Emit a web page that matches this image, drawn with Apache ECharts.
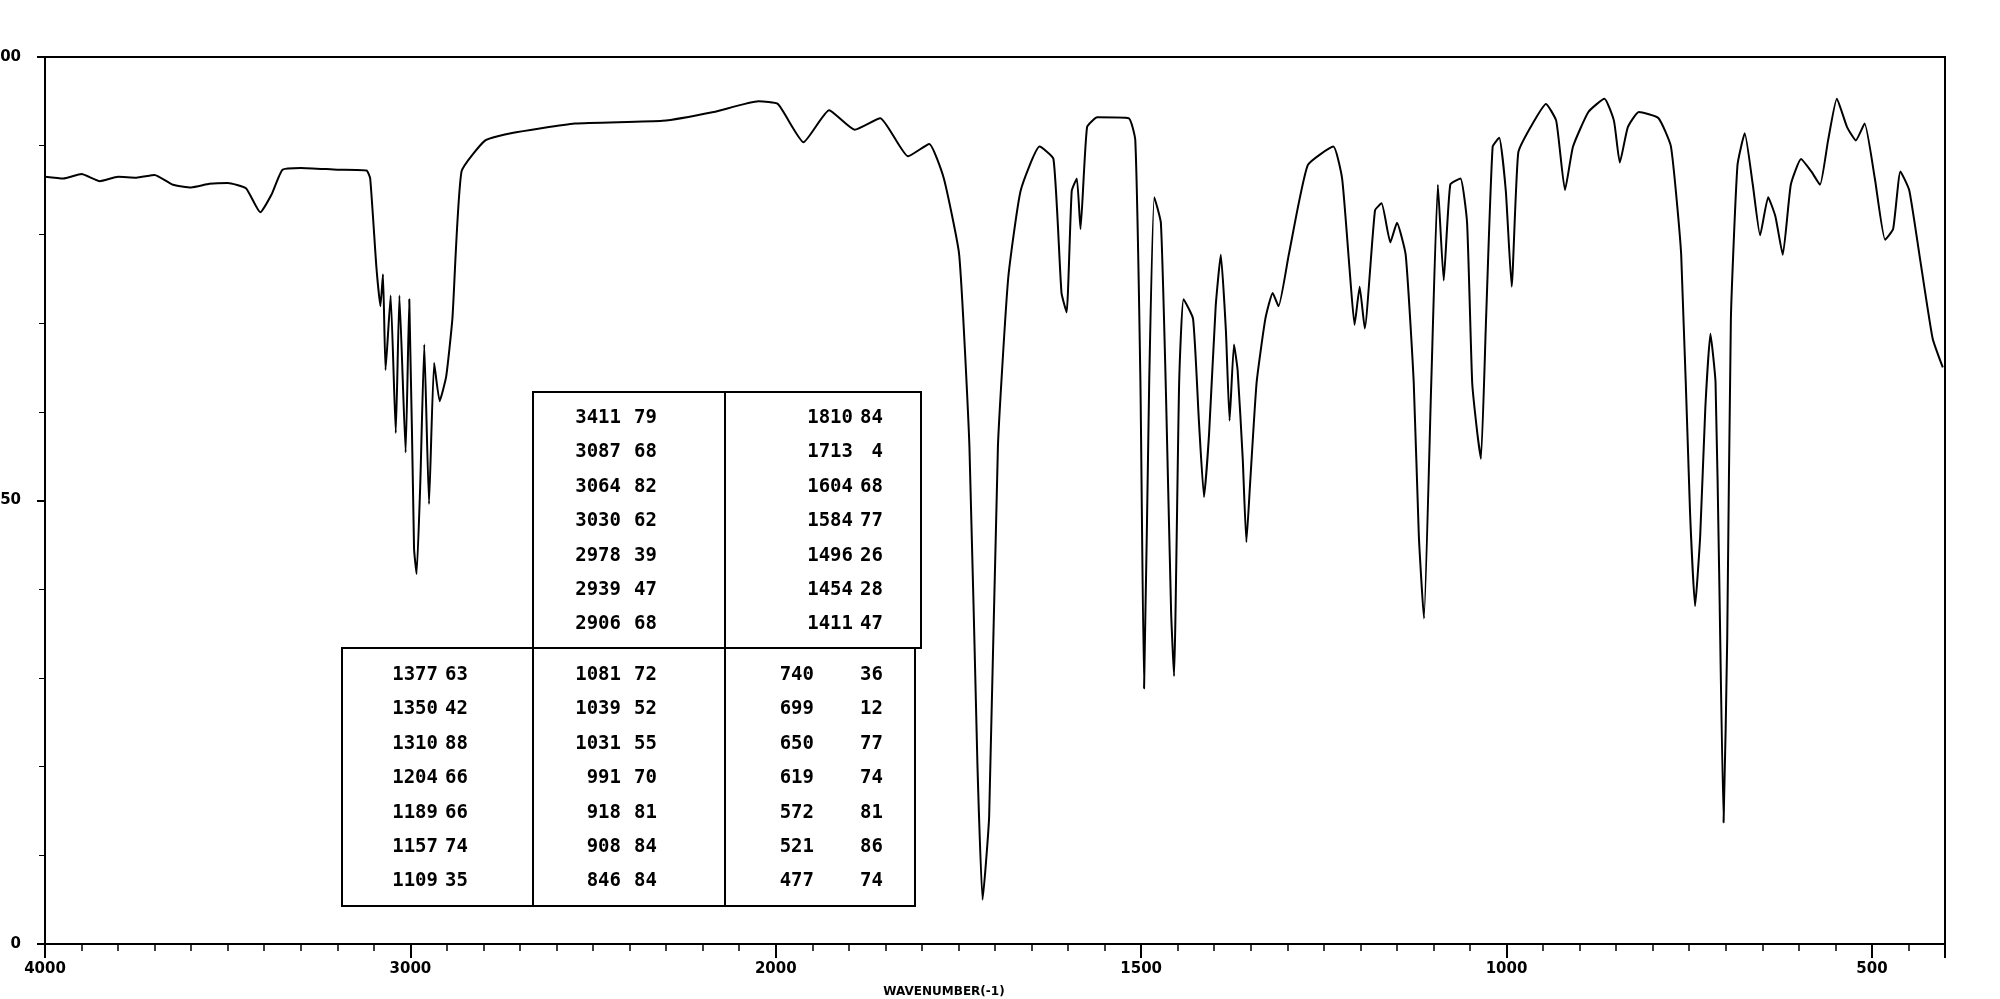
<!DOCTYPE html>
<html><head><meta charset="utf-8">
<script src="https://cdn.jsdelivr.net/npm/echarts@6/dist/echarts.min.js"></script>
<style>html,body{margin:0;padding:0;background:#fff}#c{width:2000px;height:999px}</style>
</head><body><div id="c"></div>
<script>
// spectrum (wavenumber cm-1, %T)
const wavenumbers = [4000,3950,3900,3850,3800,3750,3700,3650,3600,3550,3500,3450,3411,3380,3350,3300,3200,3120,3110,3093,3082,3075,3068,3054,3040,3030,3013,3003,2990,2983,2973,2962,2949,2935,2920,2902,2885,2860,2795,2725,2550,2310,2170,2047,1997,1962,1927,1892,1857,1819,1790,1770,1749,1735,1724,1717,1708,1696,1682,1665,1639,1620,1609,1602,1595,1588,1583,1574,1560,1517,1508,1501,1496,1489,1482,1473,1466,1459,1455,1448,1442,1429,1421,1414,1407,1398,1391,1384,1379,1373,1368,1361,1356,1351,1342,1330,1320,1312,1298,1272,1237,1225,1215,1208,1201,1194,1180,1171,1159,1150,1138,1127,1120,1113,1103,1094,1086,1077,1063,1054,1047,1040,1035,1028,1019,1010,1001,993,984,967,946,932,920,909,888,866,853,845,834,819,792,775,761,749,742,735,728,721,714,709,703,698,693,684,674,663,653,642,632,622,611,597,583,571,560,548,534,522,510,496,482,471,461,449,435,417,403];
const transmittance = [86.5,86.3,86.8,86.0,86.5,86.4,86.7,85.6,85.3,85.7,85.8,85.2,82.5,84.5,87.3,87.5,87.3,87.2,86.3,76.3,71.9,75.5,64.7,73.1,57.6,73.1,55.4,72.7,44.6,41.7,51.8,67.6,49.6,65.5,61.2,64.0,70.5,87.1,90.6,91.4,92.5,92.8,93.8,95.0,94.7,90.4,94.0,91.8,93.1,88.8,90.2,86.3,77.7,56.1,20.1,5.0,14.4,56.1,75.0,84.9,89.9,88.5,73.4,71.2,84.9,86.3,80.6,92.1,93.2,93.1,90.6,63.3,28.8,63.3,84.2,81.3,61.9,37.4,30.2,63.3,72.7,70.5,59.0,50.4,57.6,71.9,77.7,69.1,59.0,67.6,64.7,54.7,45.3,51.8,63.3,70.5,73.4,71.9,77.7,87.8,89.9,86.3,76.3,69.8,74.1,69.4,82.7,83.5,79.1,81.3,77.7,63.3,46.0,36.7,63.3,85.6,74.8,85.6,86.3,81.3,63.3,57.6,54.7,70.5,89.9,90.9,84.9,74.1,89.2,92.1,94.7,92.8,85.0,89.9,93.8,95.3,92.8,88.1,92.1,93.8,93.1,89.9,77.7,48.9,38.1,46.0,60.4,68.8,63.3,41.7,13.7,34.5,70.5,87.8,91.4,85.6,79.9,84.2,82.0,77.7,85.6,88.5,87.1,85.6,90.6,95.3,92.1,90.6,92.5,86.3,79.4,80.6,87.1,85.0,77.7,68.3,65.0];
// peak table columns
const peakCol1Wn = ['3411','3087','3064','3030','2978','2939','2906'];
const peakCol1T  = ['79','68','82','62','39','47','68'];
const peakCol2Wn = ['1810','1713','1604','1584','1496','1454','1411'];
const peakCol2T  = ['84','4','68','77','26','28','47'];
const peakCol3Wn = ['1377','1350','1310','1204','1189','1157','1109'];
const peakCol3T  = ['63','42','88','66','66','74','35'];
const peakCol4Wn = ['1081','1039','1031','991','918','908','846'];
const peakCol4T  = ['72','52','55','70','81','84','84'];
const peakCol5Wn = ['740','699','650','619','572','521','477'];
const peakCol5T  = ['36','12','77','74','81','86','74'];
const xTicks = [4000,3000,2000,1500,1000,500];
const yTicks = [0,50,100];

// IR axis: half scale above 2000 cm-1
function toU(w){ return w >= 2000 ? (4000 - w) / 2 : 1000 + (2000 - w); }
function fromU(u){ return u <= 1000 ? 4000 - 2*u : 2000 - (u - 1000); }

const data = wavenumbers.map((w,i)=>[toU(w), transmittance[i]]);
const font = 'DejaVu Sans';
const graphics = [];
function rect(x,y,w,h){ graphics.push({type:'rect',shape:{x,y,width:w,height:h},style:{fill:'none',stroke:'#000',lineWidth:2},z:10}); }
rect(533,392,388,256); rect(342,648,573,258); rect(533,648,192,258);
graphics.push({type:'line',shape:{x1:725,y1:392,x2:725,y2:648},style:{stroke:'#000',lineWidth:2},z:10});
function col(wns, ts, xw, xt, y0){
  wns.forEach((s,i)=>{
    graphics.push({type:'text',x:xw,y:y0+34.4*i,style:{text:s,font:'bold 19px "DejaVu Sans Mono"',fill:'#000',align:'right',verticalAlign:'middle'},z:11});
    graphics.push({type:'text',x:xt,y:y0+34.4*i,style:{text:ts[i],font:'bold 19px "DejaVu Sans Mono"',fill:'#000',align:'right',verticalAlign:'middle'},z:11});
  });
}
col(peakCol1Wn,peakCol1T,621,657,418);
col(peakCol2Wn,peakCol2T,853,883,418);
col(peakCol3Wn,peakCol3T,438,468,675);
col(peakCol4Wn,peakCol4T,621,657,675);
col(peakCol5Wn,peakCol5T,814,883,675);
graphics.push({type:'text',x:944,y:992,style:{text:'WAVENUMBER(-1)',font:'bold 12px '+font,fill:'#000',align:'center',verticalAlign:'middle'}});

const chart = echarts.init(document.getElementById('c'));
chart.setOption({
  animation:false,
  grid:{left:45,right:55,top:57,bottom:55,show:true,borderColor:'#000',borderWidth:2,containLabel:false,outerBoundsMode:'none'},
  xAxis:{type:'value',min:0,max:2600,interval:500,
    axisLine:{onZero:false,lineStyle:{color:'#000',width:2}},
    axisTick:{show:true,length:14,lineStyle:{color:'#000',width:2}},
    minorTick:{show:true,splitNumber:10,length:7,lineStyle:{color:'#000',width:1.5}},
    splitLine:{show:false},
    axisLabel:{showMaxLabel:false,color:'#000',fontFamily:font,fontWeight:'bold',fontSize:15,margin:18,
      formatter:v=>{const w=fromU(v); return xTicks.includes(w)?String(w):'';}}},
  yAxis:{type:'value',min:0,max:100,interval:50,
    axisLine:{lineStyle:{color:'#000',width:2}},
    axisTick:{show:true,length:8,lineStyle:{color:'#000',width:2}},
    minorTick:{show:true,splitNumber:5,length:6,lineStyle:{color:'#000'}},
    splitLine:{show:false},
    axisLabel:{color:'#000',fontFamily:font,fontWeight:'bold',fontSize:15,margin:24,
      formatter:v=>yTicks.includes(v)?String(v):''}},
  series:[{type:'line',data:data,showSymbol:false,lineStyle:{color:'#000',width:2},smooth:0.15}],
  graphic:graphics
});
</script></body></html>
